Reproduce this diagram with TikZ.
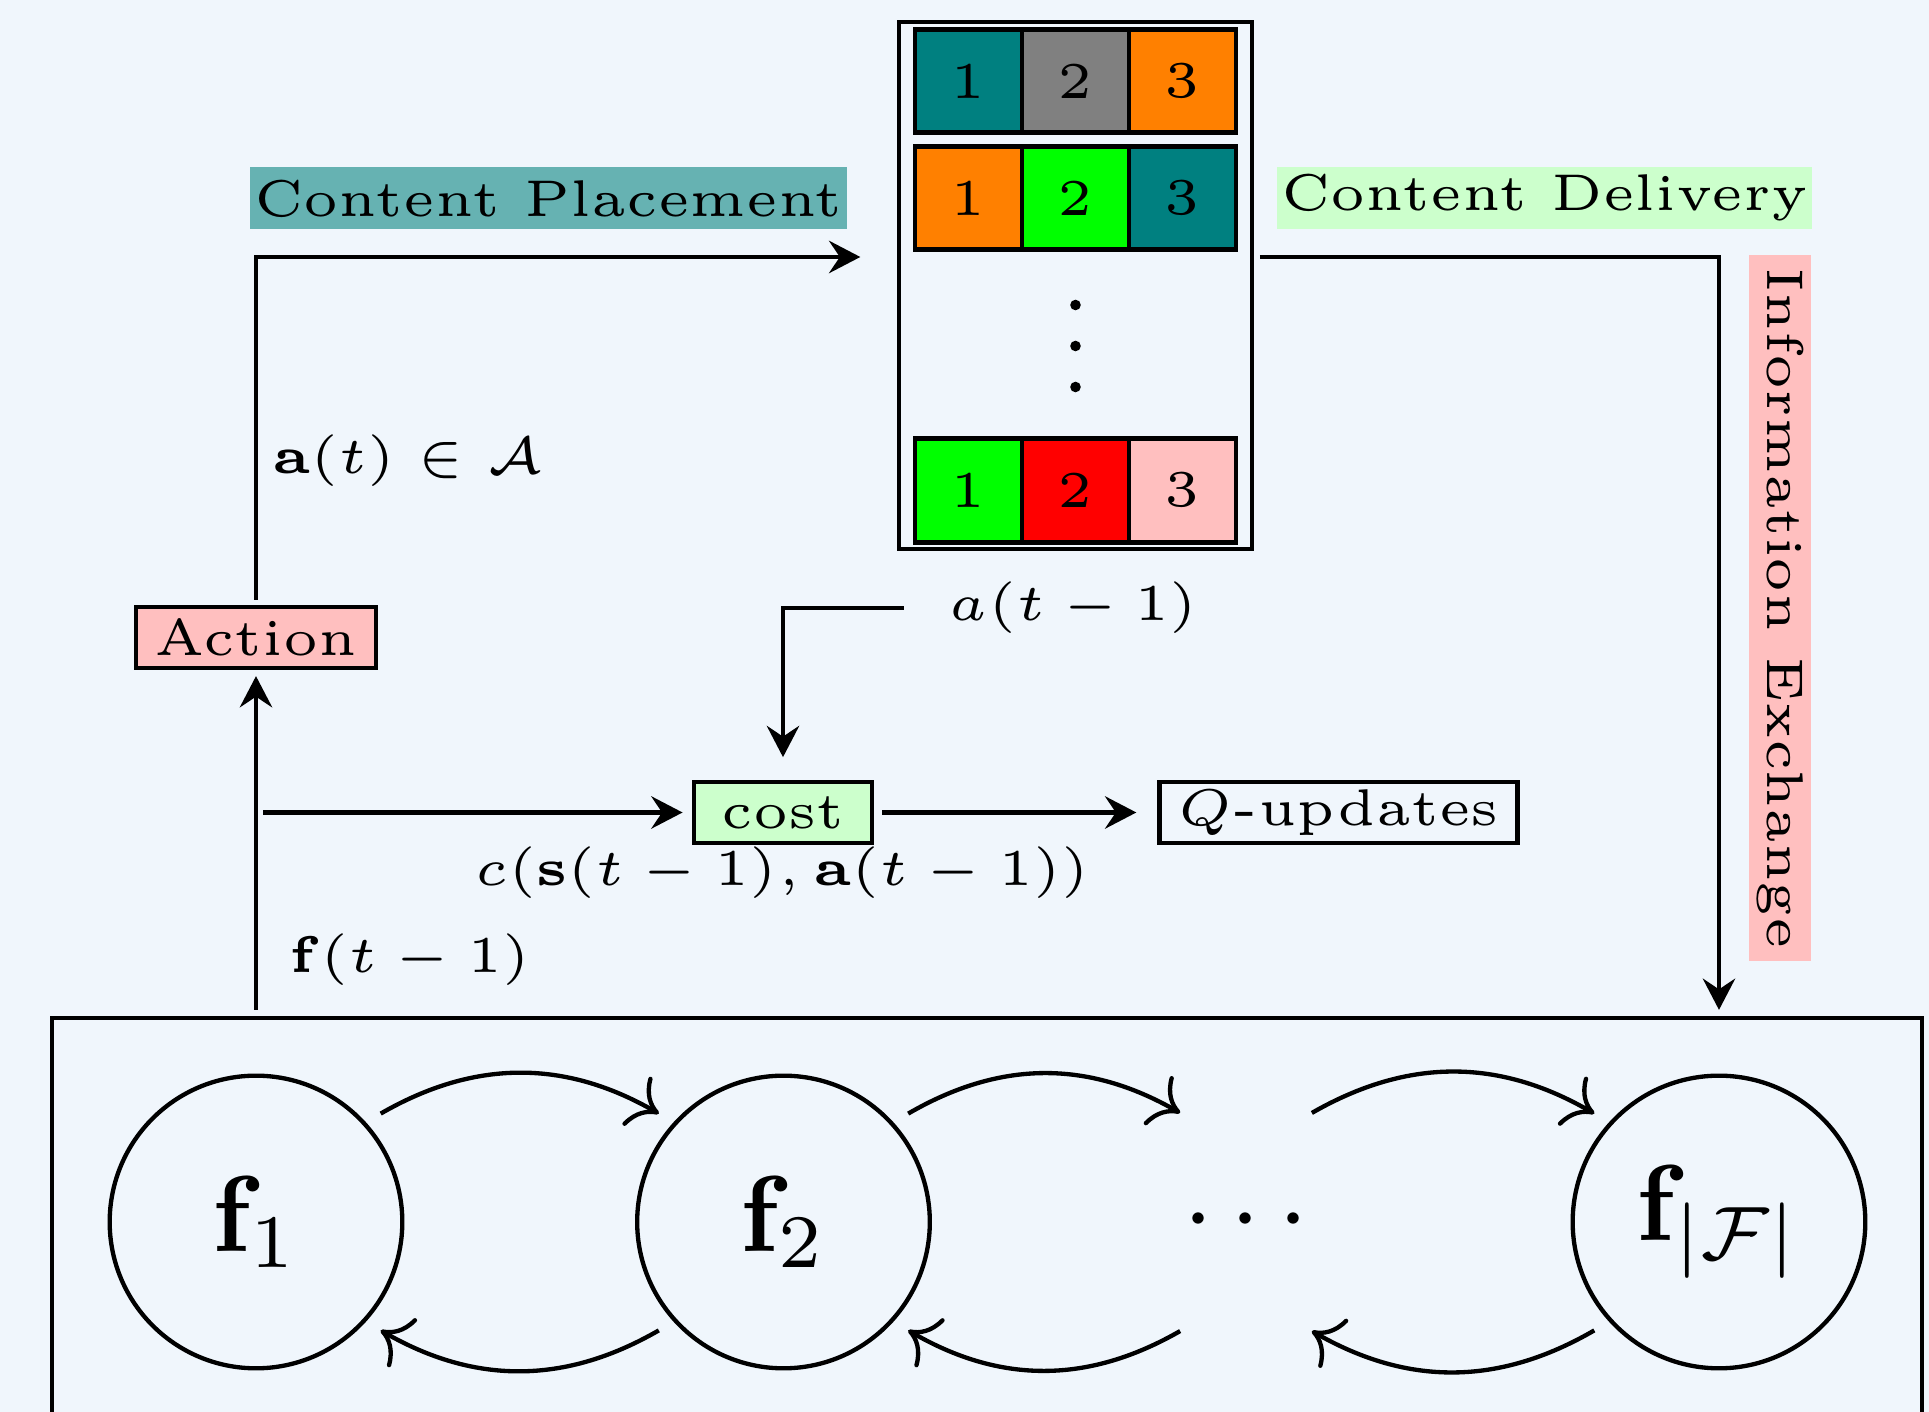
\RequirePackage{fix-cm}
\documentclass[tikz,border=0pt]{standalone}
\usetikzlibrary{arrows.meta}
\definecolor{bgc}{RGB}{240,246,252}
\begin{document}
\begin{tikzpicture}[x=0.0926pt, y=-0.0926pt,
  every node/.style={font=\fontsize{4.78pt}{5.8pt}\selectfont},
  sarr/.style={-{Stealth[length=2.9pt,width=3pt,inset=1pt]}},
  carr/.style={->},
  box/.style={draw, inner xsep=1.7pt, inner ysep=0pt, minimum height=5.65pt},
  tag/.style={inner xsep=0.4pt, inner ysep=0pt, minimum height=5.74pt},
  cell/.style={draw, line width=0.45pt, minimum width=9.9pt, minimum height=9.6pt, inner sep=0pt, outer sep=0pt},
  state/.style={draw, circle, minimum size=27.1pt, inner sep=0pt, outer sep=1.75pt, font=\normalsize},
  mlab/.style={inner sep=0pt}]
\fill[bgc] (0,0) rectangle (1929,1412);
\useasboundingbox (0,0) rectangle (1929,1412);

% cache box
\node[draw, line width=0.35pt, minimum width=32.7pt, minimum height=48.8pt, inner sep=0pt] (cache) at (1075.5,285.5) {};
\node[cell, fill=teal]   (c11) at (968.5,81) {1};
\node[cell, fill=gray]   (c12) at (1075.5,81) {2};
\node[cell, fill=orange] (c13) at (1182.5,81) {3};
\node[cell, fill=orange] (c21) at (968.5,198) {1};
\node[cell, fill=green]  (c22) at (1075.5,198) {2};
\node[cell, fill=teal]   (c23) at (1182.5,198) {3};
\node[cell, fill=green]  (c31) at (968.5,490.3) {1};
\node[cell, fill=red]    (c32) at (1075.5,490.3) {2};
\node[cell, fill=red!25] (c33) at (1182.5,490.3) {3};
\fill (1075.5,305) circle (5.3);
\fill (1075.5,346) circle (5.3);
\fill (1075.5,387) circle (5.3);

% labels
\node[tag, fill=teal!60, minimum width=54.5pt] (cp) at (548.5,198.5) {Content Placement};
\node[tag, fill=green!20, minimum width=49.4pt] (cd) at (1544.5,198) {Content Delivery};
\node[tag, fill=red!25, minimum width=65.4pt, rotate=-90] (ie) at (1780,608) {Information Exchange};

\node[box, fill=red!25, minimum width=22pt] (act) at (256,637.5) {Action};
\node[box, fill=green!20, minimum width=16.5pt] (cost) at (783,812.5) {cost};
\node[box, minimum width=32.5pt] (qu) at (1338.5,812.5) {$Q$-updates};

\node[mlab, anchor=west] (al) at (270,461) {$\mathbf{a}(t)\in\mathcal{A}$};
\node[mlab, anchor=west] (fl) at (287,960) {$\mathbf{f}(t-1)$};
\node[mlab] (cl) at (782,873) {$c(\mathbf{s}(t-1),\mathbf{a}(t-1))$};
\node[mlab] (alab) at (1073,608) {$a(t-1)$};

% environment
\node[draw, anchor=north west, minimum width=173.2pt, minimum height=60pt, inner sep=0pt, outer sep=0pt] (env) at (52,1018) {};
\node[state] (f1) at (256,1222) {$\mathbf{f}_1$};
\node[state] (f2) at (783.5,1222) {$\mathbf{f}_2$};
\node[inner sep=0pt, outer sep=0pt, minimum width=12.2pt, minimum height=20.2pt, font=\normalsize] (dots) at (1246,1222) {$\cdots$};
\node[state] (fF) at (1719,1222) {$\mathbf{f}_{|\mathcal{F}|}$};

% connectors
\draw[sarr, shorten <=0.45pt, shorten >=3.4pt] (act.north) |- ([yshift=2.64pt]cache.west);
\draw[sarr, shorten <=0.55pt, shorten >=0.75pt] ([yshift=2.64pt]cache.east) -| (env.north -| fF.north);
\draw[sarr, shorten <=0.75pt, shorten >=0.55pt] (env.north -| act.south) -- (act.south);
\draw[sarr, shorten <=0.65pt, shorten >=0.85pt] (act.south |- cost.west) -- (cost.west);
\draw[sarr, shorten <=0.75pt, shorten >=1.95pt] (cost.east) -- (qu.west);
\draw[sarr, shorten <=3.9pt, shorten >=2.1pt] (alab.west) -| (cost.north);

\draw[carr] (f1.41) to[bend left=30] (f2.139);
\draw[carr] (f2.41) to[bend left=30] (dots.north west);
\draw[carr] (dots.north east) to[bend left=30] (fF.139);
\draw[carr] (fF.-139) to[bend left=30] (dots.south east);
\draw[carr] (dots.south west) to[bend left=30] (f2.-41);
\draw[carr] (f2.-139) to[bend left=30] (f1.-41);
\end{tikzpicture}
\end{document}
